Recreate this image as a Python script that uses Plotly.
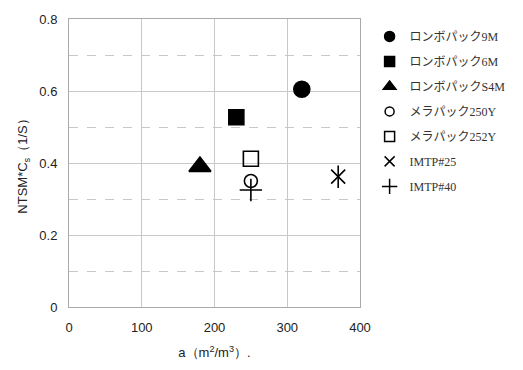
import plotly.graph_objects as go

names = ["ロンボパック9M", "ロンボパック6M", "ロンボパックS4M", "メラパック250Y", "メラパック252Y", "IMTP#25", "IMTP#40"]
a_vals = [320, 230, 180, 250, 250, 370, 250]
ntsm_vals = [0.605, 0.527, 0.39, 0.35, 0.412, 0.362, 0.325]
symbols = ["circle", "square", "triangle-up", "circle-open", "square-open", "x-thin-open", "cross-thin-open"]
sizes = [16, 15, 19, 13, 15, 14, 16]
legend_sizes = [10, 10, 11, 9, 10, 10, 11]

fig = go.Figure()
for i, n in enumerate(names):
    # data mark
    fig.add_trace(go.Scatter(
        x=[a_vals[i]], y=[ntsm_vals[i]], mode="markers", name=n, legendgroup=n, showlegend=False,
        marker=dict(symbol=symbols[i], size=sizes[i], color="black",
                    line=dict(color="black", width=1.6)),
    ))
    if symbols[i] == "x-thin-open":
        fig.add_trace(go.Scatter(
            x=[a_vals[i]], y=[ntsm_vals[i]], mode="markers", showlegend=False, legendgroup=n,
            marker=dict(symbol="line-ns-open", size=sizes[i] + 2, color="black",
                        line=dict(color="black", width=1.6)),
        ))
    # legend entry
    fig.add_trace(go.Scatter(
        x=[None], y=[None], mode="markers", name=n, legendgroup=n, showlegend=True,
        marker=dict(symbol=symbols[i], size=legend_sizes[i], color="black",
                    line=dict(color="black", width=1.5)),
    ))

fig.update_layout(
    width=523, height=370,
    margin=dict(l=69, r=158, t=18, b=62),
    plot_bgcolor="white", paper_bgcolor="white",
    font=dict(family="Liberation Sans, Arial, sans-serif", size=13, color="#222"),
    legend=dict(x=1.033, y=0.99, xanchor="left", yanchor="top",
                font=dict(family="Liberation Serif, Noto Sans CJK JP, serif", size=12, color="#333"),
                traceorder="grouped", tracegroupgap=6, itemwidth=30,
                bgcolor="rgba(0,0,0,0)"),
    showlegend=True,
)
fig.update_xaxes(range=[0, 400], dtick=100, showgrid=True, gridcolor="#c8c8c8", gridwidth=1,
                 showline=True, linecolor="#aaa", mirror=True, zeroline=False,
                 ticks="", tickfont=dict(size=13), ticklabelstandoff=8,
                 title=dict(text="a（m<sup>2</sup>/m<sup>3</sup>）.", font=dict(size=13), standoff=14))
fig.update_yaxes(range=[0, 0.8], dtick=0.2, showgrid=True, gridcolor="#c8c8c8", gridwidth=1,
                 minor=dict(dtick=0.1, showgrid=True, gridcolor="#c8c8c8", griddash="dash", gridwidth=1),
                 showline=True, linecolor="#aaa", mirror=True, zeroline=False,
                 ticks="", tickfont=dict(size=13), ticklabelstandoff=8,
                 title=dict(text="NTSM*C<sub>s</sub>（1/S）", font=dict(size=13), standoff=8))

fig.write_html("out.html")
